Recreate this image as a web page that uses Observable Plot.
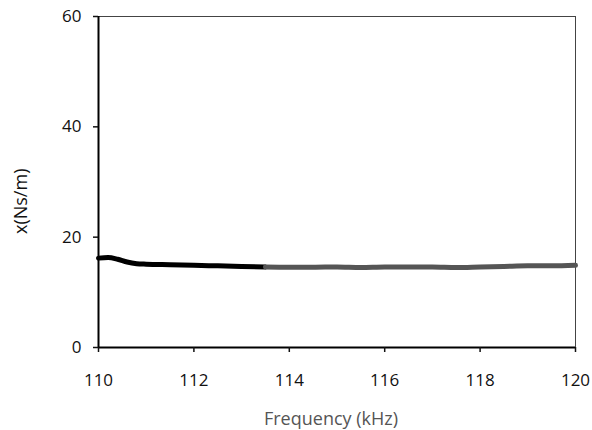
<!DOCTYPE html>
<html>
<head>
<meta charset="utf-8">
<script src="https://cdn.jsdelivr.net/npm/d3@7"></script>
<script src="https://cdn.jsdelivr.net/npm/@observablehq/plot@0.6"></script>
<style>
  html, body { margin: 0; padding: 0; background: #fff; }
  #chart { width: 592px; height: 430px; }
  svg { font-family: "Open Sans", "Liberation Sans", sans-serif; }
</style>
</head>
<body>
<div id="chart"></div>
<script>
const freqA = [110.0, 110.2, 110.4, 110.6, 110.8, 111.0, 111.5, 112.0, 112.5, 113.0, 113.5];
const xA    = [16.2, 16.3, 16.0, 15.5, 15.2, 15.1, 15.0, 14.9, 14.8, 14.7, 14.6];
const freqB = [113.5, 114.0, 114.5, 115.0, 115.5, 116.0, 116.5, 117.0, 117.5, 118.0, 118.5, 119.0, 119.5, 120.0];
const xB    = [14.6, 14.55, 14.55, 14.6, 14.5, 14.6, 14.6, 14.6, 14.5, 14.6, 14.7, 14.8, 14.8, 14.9];
const xTicks = [110, 112, 114, 116, 118, 120];
const yTicks = [0, 20, 40, 60];

const segA = freqA.map((f, i) => ({f, v: xA[i]}));
const segB = freqB.map((f, i) => ({f, v: xB[i]}));

const chart = Plot.plot({
  width: 592,
  height: 430,
  marginLeft: 98,
  marginRight: 17,
  marginTop: 16,
  marginBottom: 83,
  style: {fontSize: "17px", color: "#111", background: "transparent"},
  x: {domain: [110, 120], label: null},
  y: {domain: [0, 60], label: null},
  marks: [
    Plot.frame({stroke: "#444", strokeWidth: 1}),
    Plot.ruleX([110], {stroke: "#000", strokeWidth: 2}),
    Plot.ruleY([0], {stroke: "#000", strokeWidth: 2}),
    Plot.axisX({ticks: xTicks, tickSize: 5, tickPadding: 21, label: null, strokeWidth: 1.5, fontSize: 17}),
    Plot.axisY({ticks: yTicks, tickSize: 5, tickPadding: 12, label: null, strokeWidth: 1.5, fontSize: 17}),
    Plot.line(segA, {x: "f", y: "v", stroke: "#000", strokeWidth: 5, curve: "monotone-x"}),
    Plot.line(segB, {x: "f", y: "v", stroke: "#555", strokeWidth: 5, curve: "monotone-x"}),
    Plot.text(["Frequency (kHz)"], {frameAnchor: "bottom", dx: -6, dy: 77, fill: "#555", fontSize: 18}),
    Plot.text(["x(Ns/m)"], {frameAnchor: "left", dx: -77, dy: 52, rotate: -90, fill: "#111", fontSize: 18})
  ]
});
document.getElementById("chart").appendChild(chart);
</script>
</body>
</html>
